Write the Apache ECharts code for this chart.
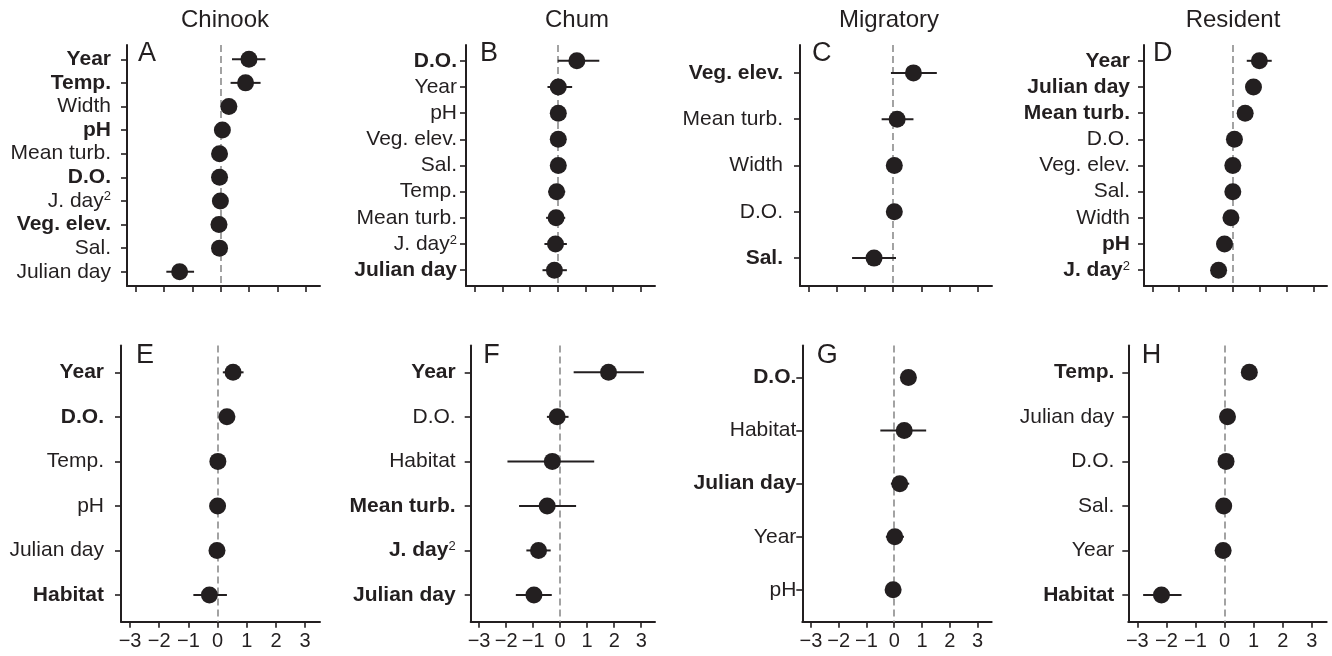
<!DOCTYPE html>
<html><head><meta charset="utf-8">
<script src="https://cdn.jsdelivr.net/npm/echarts@6/dist/echarts.min.js"></script>
<style>html,body{margin:0;padding:0;background:#fff}#c{width:1332px;height:656px}</style>
</head><body><div id="c"></div>
<script>
// ---------- DATA ----------
const groupTitles = ['Chinook', 'Chum', 'Migratory', 'Resident'];
const xTicks = [-3, -2, -1, 0, 1, 2, 3];

const labelsA = ['Year', 'Temp.', 'Width', 'pH', 'Mean turb.', 'D.O.', 'J. day²', 'Veg. elev.', 'Sal.', 'Julian day'];
const estA = [1.0, 0.88, 0.29, 0.06, -0.04, -0.04, -0.01, -0.06, -0.04, -1.45];
const loA  = [0.40, 0.35, 0.15, -0.08, -0.16, -0.16, -0.13, -0.18, -0.16, -1.92];
const hiA  = [1.58, 1.41, 0.43, 0.20, 0.08, 0.08, 0.11, 0.06, 0.08, -0.94];
const boldA = ['Year', 'Temp.', 'pH', 'D.O.', 'Veg. elev.'];

const labelsB = ['D.O.', 'Year', 'pH', 'Veg. elev.', 'Sal.', 'Temp.', 'Mean turb.', 'J. day²', 'Julian day'];
const estB = [0.69, 0.02, 0.02, 0.02, 0.02, -0.04, -0.06, -0.08, -0.12];
const loB  = [0.0, -0.37, -0.10, -0.10, -0.10, -0.34, -0.42, -0.48, -0.55];
const hiB  = [1.5, 0.52, 0.14, 0.14, 0.14, 0.27, 0.27, 0.33, 0.33];
const boldB = ['D.O.', 'Julian day'];

const labelsC = ['Veg. elev.', 'Mean turb.', 'Width', 'D.O.', 'Sal.'];
const estC = [0.72, 0.14, 0.04, 0.04, -0.68];
const loC  = [-0.08, -0.41, -0.08, -0.08, -1.46];
const hiC  = [1.55, 0.72, 0.16, 0.16, 0.10];
const boldC = ['Veg. elev.', 'Sal.'];

const labelsD = ['Year', 'Julian day', 'Mean turb.', 'D.O.', 'Veg. elev.', 'Sal.', 'Width', 'pH', 'J. day²'];
const estD = [0.99, 0.77, 0.46, 0.06, 0.0, 0.0, -0.07, -0.31, -0.53];
const loD  = [0.52, 0.62, 0.32, -0.06, -0.12, -0.12, -0.19, -0.43, -0.65];
const hiD  = [1.45, 0.92, 0.60, 0.18, 0.12, 0.12, 0.05, -0.19, -0.41];
const boldD = ['Year', 'Julian day', 'Mean turb.', 'pH', 'J. day²'];

const labelsE = ['Year', 'D.O.', 'Temp.', 'pH', 'Julian day', 'Habitat'];
const estE = [0.53, 0.32, 0.01, 0.0, -0.02, -0.28];
const loE  = [0.18, 0.17, -0.11, -0.12, -0.14, -0.83];
const hiE  = [0.89, 0.47, 0.13, 0.12, 0.10, 0.32];
const boldE = ['Year', 'D.O.', 'Habitat'];

const labelsF = ['Year', 'D.O.', 'Habitat', 'Mean turb.', 'J. day²', 'Julian day'];
const estF = [1.79, -0.11, -0.29, -0.48, -0.80, -0.97];
const loF  = [0.50, -0.49, -1.95, -1.52, -1.25, -1.64];
const hiF  = [3.10, 0.31, 1.26, 0.59, -0.35, -0.31];
const boldF = ['Year', 'Mean turb.', 'J. day²', 'Julian day'];

const labelsG = ['D.O.', 'Habitat', 'Julian day', 'Year', 'pH'];
const estG = [0.51, 0.36, 0.20, 0.02, -0.04];
const loG  = [0.25, -0.50, -0.12, -0.30, -0.16];
const hiG  = [0.77, 1.15, 0.54, 0.35, 0.08];
const boldG = ['D.O.', 'Julian day'];

const labelsH = ['Temp.', 'Julian day', 'D.O.', 'Sal.', 'Year', 'Habitat'];
const estH = [0.85, 0.10, 0.05, -0.03, -0.05, -2.17];
const loH  = [0.73, -0.02, -0.07, -0.15, -0.17, -2.80];
const hiH  = [0.97, 0.22, 0.17, 0.09, 0.07, -1.48];
const boldH = ['Temp.', 'Habitat'];

// ---------- LAYOUT ----------
const FONT = '"Liberation Sans", Arial, Helvetica, sans-serif';
const INK = '#231f20';
const rows = [{top: 45.1, bottom: 285.9, letterY: 40}, {top: 345.6, bottom: 621.7, letterY: 342}];
const panels = [
  {letter: 'A', labels: labelsA, est: estA, lo: loA, hi: hiA, bold: boldA, left: 127,   right: 320,   row: 0, margin: 16, lx: 11},
  {letter: 'B', labels: labelsB, est: estB, lo: loB, hi: hiB, bold: boldB, left: 466,   right: 655,   row: 0, margin: 9,  lx: 14},
  {letter: 'C', labels: labelsC, est: estC, lo: loC, hi: hiC, bold: boldC, left: 800,   right: 992,   row: 0, margin: 17, lx: 12},
  {letter: 'D', labels: labelsD, est: estD, lo: loD, hi: hiD, bold: boldD, left: 1144,  right: 1327,  row: 0, margin: 14, lx: 9},
  {letter: 'E', labels: labelsE, est: estE, lo: loE, hi: hiE, bold: boldE, left: 121,   right: 320,   row: 1, margin: 17, lx: 15},
  {letter: 'F', labels: labelsF, est: estF, lo: loF, hi: hiF, bold: boldF, left: 470.7, right: 655,   row: 1, margin: 15, lx: 12.6},
  {letter: 'G', labels: labelsG, est: estG, lo: loG, hi: hiG, bold: boldG, left: 802.3, right: 991.7, row: 1, margin: 6,  lx: 14.4},
  {letter: 'H', labels: labelsH, est: estH, lo: loH, hi: hiH, bold: boldH, left: 1128.3,right: 1326.7,row: 1, margin: 14, lx: 13.4}
];
const titleX = [225, 577, 889, 1233];

const grid = [], xAxis = [], yAxis = [], series = [], graphic = [];
const rich = {
  n: {fontFamily: FONT, fontSize: 21, color: INK, fontWeight: 'normal'},
  b: {fontFamily: FONT, fontSize: 21, color: INK, fontWeight: 'bold'},
  ns: {fontFamily: FONT, fontSize: 13, color: INK, fontWeight: 'normal', verticalAlign: 'top'},
  bs: {fontFamily: FONT, fontSize: 13, color: INK, fontWeight: 'normal', verticalAlign: 'top'}
};

panels.forEach((p, i) => {
  const r = rows[p.row];
  const n = p.labels.length;
  const idx = p.labels.map((_, k) => k);
  grid.push({left: p.left, top: r.top, width: p.right - p.left, height: r.bottom - r.top, containLabel: false});
  xAxis.push({
    type: 'value', gridIndex: i, min: -3.31, max: 3.51,
    splitLine: {show: false},
    axisLine: {show: true, onZero: false, lineStyle: {color: INK, width: 2}},
    axisTick: {show: true, length: 6, customValues: xTicks, lineStyle: {color: INK, width: 1.6}},
    axisLabel: {
      show: p.row === 1, customValues: xTicks, margin: 10,
      fontFamily: FONT, fontSize: 20, color: INK,
      formatter: v => (v < 0 ? '\u2212' + Math.abs(v) : String(v))
    }
  });
  yAxis.push({
    type: 'value', gridIndex: i, inverse: true, min: -0.6, max: n - 0.4,
    splitLine: {show: false},
    axisLine: {show: true, onZero: false, lineStyle: {color: INK, width: 2}},
    axisTick: {show: true, length: 6, customValues: idx, lineStyle: {color: INK, width: 1.6}},
    axisLabel: {
      show: true, customValues: idx, margin: p.margin, rich: rich,
      formatter: v => {
        const k = Math.round(v);
        const lab = p.labels[k];
        if (lab === undefined) return '';
        const isB = p.bold.indexOf(lab) >= 0;
        const s = isB ? 'b' : 'n';
        if (lab.indexOf('²') >= 0) {
          return '{' + s + '|' + lab.replace('²', '') + '}{' + s + 's|2}';
        }
        return '{' + s + '|' + lab + '}';
      }
    }
  });
  // error bars
  series.push({
    type: 'custom', xAxisIndex: i, yAxisIndex: i, z: 2,
    data: idx.map(k => [p.lo[k], p.hi[k], k]),
    encode: {x: [0, 1], y: 2},
    renderItem: (params, api) => {
      const a = api.coord([api.value(0), api.value(2)]);
      const b = api.coord([api.value(1), api.value(2)]);
      return {type: 'line', shape: {x1: a[0], y1: a[1], x2: b[0], y2: b[1]},
              style: {stroke: INK, lineWidth: 2}};
    },
    silent: true
  });
  // points + zero line
  series.push({
    type: 'scatter', xAxisIndex: i, yAxisIndex: i, z: 3,
    symbol: 'circle', symbolSize: 17,
    itemStyle: {color: INK, opacity: 1},
    data: idx.map(k => [p.est[k], k]),
    silent: true,
    markLine: {
      silent: true, symbol: 'none', animation: false, z: 1,
      label: {show: false},
      lineStyle: {type: [7, 4], color: '#999', width: 1.8},
      data: [{xAxis: 0}]
    }
  });
  graphic.push({
    type: 'text', left: p.left + p.lx, top: r.letterY,
    style: {text: p.letter, font: '27px ' + FONT, fill: INK}
  });
});

groupTitles.forEach((t, j) => {
  graphic.push({
    type: 'text', x: titleX[j], y: 20,
    style: {text: t, font: '24px ' + FONT, fill: INK, textAlign: 'center', textVerticalAlign: 'middle'}
  });
});

const chart = echarts.init(document.getElementById('c'), null, {renderer: 'canvas'});
chart.setOption({animation: false, backgroundColor: '#fff', grid, xAxis, yAxis, series, graphic});
</script>
</body></html>
